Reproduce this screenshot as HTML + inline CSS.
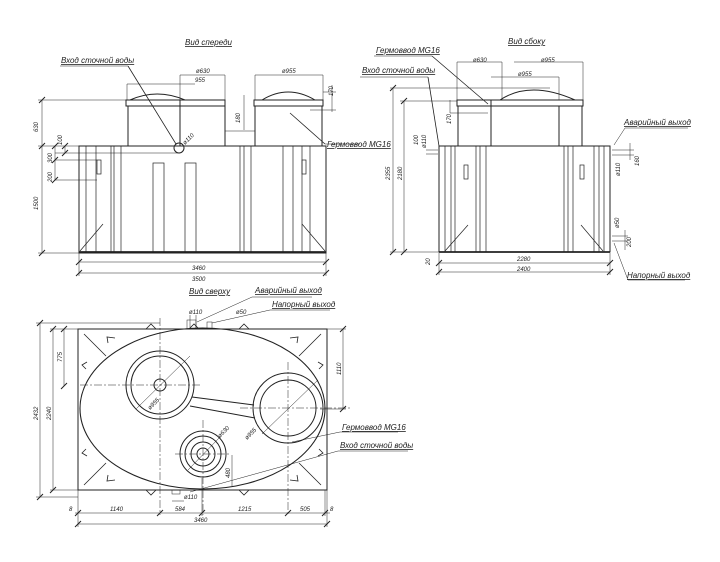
<!DOCTYPE html>
<html><head><meta charset="utf-8"><style>
html,body{margin:0;padding:0;background:#fff}
svg{display:block}
text{font-family:"Liberation Sans",sans-serif;font-style:italic;fill:#222}
.t{font-size:8px;text-decoration:underline}
.d{font-size:6px}
</style></head><body>
<svg width="720" height="562" viewBox="0 0 720 562" xmlns="http://www.w3.org/2000/svg">
<g fill="none" stroke="#222" stroke-width="1">
<!-- ===== FRONT VIEW ===== -->
<rect x="79" y="146" width="247" height="107"/>
<line x1="79" y1="252" x2="326" y2="252" stroke-width="1.8"/>
<g stroke-width="0.7">
<line x1="86" y1="146" x2="86" y2="252"/><line x1="96" y1="146" x2="96" y2="252"/>
<line x1="111" y1="146" x2="111" y2="252"/><line x1="114" y1="146" x2="114" y2="252"/><line x1="121" y1="146" x2="121" y2="252"/>
<line x1="240" y1="146" x2="240" y2="252"/><line x1="244" y1="146" x2="244" y2="252"/><line x1="251" y1="146" x2="251" y2="252"/>
<line x1="283" y1="146" x2="283" y2="252"/><line x1="293" y1="146" x2="293" y2="252"/>
<line x1="302" y1="146" x2="302" y2="252"/><line x1="310" y1="146" x2="310" y2="252"/>
<rect x="153" y="163" width="11" height="89"/><rect x="185" y="163" width="11" height="89"/>
<rect x="97" y="160" width="4" height="14"/><rect x="302" y="160" width="4" height="14"/>
<line x1="80" y1="251" x2="103" y2="224"/><line x1="325" y1="251" x2="302" y2="224"/>
</g>
<rect x="126" y="100" width="99" height="6"/>
<line x1="128" y1="106" x2="128" y2="146"/><line x1="180" y1="100" x2="180" y2="146"/><line x1="225" y1="106" x2="225" y2="146"/>
<path d="M130 100 Q157 88 185 100"/>
<rect x="254" y="100" width="69" height="6"/>
<line x1="255" y1="106" x2="255" y2="146"/><line x1="322" y1="106" x2="322" y2="146"/>
<path d="M262 100 Q288 84 315 100"/>
<line x1="225" y1="131" x2="255" y2="131" stroke-width="0.5"/>
<circle cx="179" cy="148" r="5"/>
<g stroke-width="0.5">
<line x1="79" y1="262" x2="326" y2="262"/><line x1="79" y1="273" x2="326" y2="273"/>
<line x1="79" y1="253" x2="79" y2="276"/><line x1="326" y1="253" x2="326" y2="276"/>
<line x1="42" y1="100" x2="42" y2="253"/><line x1="38" y1="100" x2="126" y2="100"/><line x1="38" y1="253" x2="79" y2="253"/><line x1="38" y1="146" x2="79" y2="146"/>
<line x1="55" y1="146" x2="55" y2="180"/><line x1="65" y1="146" x2="65" y2="153"/>
<line x1="55" y1="153" x2="180" y2="153"/><line x1="55" y1="160" x2="97" y2="160"/><line x1="55" y1="180" x2="97" y2="180"/>
<line x1="127" y1="84" x2="195" y2="84"/><line x1="127" y1="84" x2="127" y2="100"/>
<line x1="180" y1="75" x2="225" y2="75"/><line x1="180" y1="75" x2="180" y2="100"/><line x1="225" y1="75" x2="225" y2="100"/>
<line x1="255" y1="75" x2="323" y2="75"/><line x1="255" y1="75" x2="255" y2="100"/><line x1="323" y1="75" x2="323" y2="100"/>
<line x1="323" y1="92" x2="336" y2="92"/><line x1="310" y1="110" x2="336" y2="110"/><line x1="332" y1="85" x2="332" y2="112"/>
<line x1="244" y1="95" x2="244" y2="130"/>
<line x1="60" y1="66" x2="128" y2="66"/><line x1="128" y1="66" x2="176" y2="144" stroke-width="0.8"/>
<line x1="290" y1="113" x2="325" y2="144" stroke-width="0.8"/><line x1="325" y1="144" x2="360" y2="144"/>
</g>
<!-- ===== SIDE VIEW ===== -->
<rect x="439" y="146" width="171" height="106"/>
<line x1="439" y1="252" x2="610" y2="252" stroke-width="1.8"/>
<g stroke-width="0.7">
<line x1="445" y1="146" x2="445" y2="252"/><line x1="451" y1="146" x2="451" y2="252"/><line x1="455" y1="146" x2="455" y2="252"/>
<line x1="476" y1="146" x2="476" y2="252"/><line x1="480" y1="146" x2="480" y2="252"/><line x1="486" y1="146" x2="486" y2="252"/>
<line x1="564" y1="146" x2="564" y2="252"/><line x1="568" y1="146" x2="568" y2="252"/><line x1="573" y1="146" x2="573" y2="252"/>
<line x1="594" y1="146" x2="594" y2="252"/><line x1="599" y1="146" x2="599" y2="252"/><line x1="604" y1="146" x2="604" y2="252"/>
<rect x="464" y="165" width="4" height="14"/><rect x="580" y="165" width="4" height="14"/>
<line x1="445" y1="251" x2="468" y2="225"/><line x1="603" y1="251" x2="581" y2="225"/>
</g>
<rect x="457" y="100" width="126" height="6"/>
<line x1="458" y1="106" x2="458" y2="146"/><line x1="491" y1="100" x2="491" y2="146"/><line x1="559" y1="106" x2="559" y2="146"/><line x1="582" y1="106" x2="582" y2="146"/>
<path d="M500 100 Q530 80 575 100"/>
<g stroke-width="0.5">
<line x1="439" y1="263" x2="610" y2="263"/><line x1="439" y1="272" x2="610" y2="272"/>
<line x1="439" y1="253" x2="439" y2="275"/><line x1="610" y1="253" x2="610" y2="275"/>
<line x1="393" y1="88" x2="393" y2="252"/><line x1="404" y1="101" x2="404" y2="252"/>
<line x1="390" y1="88" x2="550" y2="88"/><line x1="400" y1="101" x2="457" y2="101"/><line x1="390" y1="252" x2="439" y2="252"/>
<line x1="457" y1="62" x2="502" y2="62"/><line x1="457" y1="62" x2="457" y2="100"/><line x1="502" y1="62" x2="502" y2="100"/>
<line x1="514" y1="62" x2="583" y2="62"/><line x1="583" y1="62" x2="583" y2="100"/>
<line x1="491" y1="77" x2="559" y2="77"/><line x1="559" y1="77" x2="559" y2="100"/>
<line x1="450" y1="113" x2="488" y2="113"/><line x1="450" y1="100" x2="450" y2="113"/>
<line x1="374" y1="56" x2="432" y2="56"/><line x1="432" y1="56" x2="488" y2="104" stroke-width="0.8"/>
<line x1="360" y1="77" x2="428" y2="77"/><line x1="428" y1="77" x2="439" y2="146" stroke-width="0.8"/>
<line x1="426" y1="150" x2="438" y2="150"/><line x1="426" y1="154" x2="438" y2="154"/>
<line x1="612" y1="150" x2="634" y2="150"/><line x1="612" y1="155" x2="634" y2="155"/><line x1="630" y1="143" x2="630" y2="160"/>
<line x1="614" y1="145" x2="625" y2="128"/><line x1="625" y1="128" x2="688" y2="128"/>
<line x1="612" y1="236" x2="628" y2="236"/><line x1="612" y1="241" x2="628" y2="241"/><line x1="625" y1="230" x2="625" y2="250"/>
<line x1="614" y1="243" x2="628" y2="280"/><line x1="628" y1="280" x2="685" y2="280"/>
</g>
<!-- ===== TOP VIEW ===== -->
<rect x="78" y="329" width="249" height="161"/>
<ellipse cx="202.5" cy="408.5" rx="122.5" ry="80.5" stroke-width="1.1"/>
<g stroke-width="0.8">
<line x1="84" y1="334" x2="106" y2="356"/><line x1="321" y1="334" x2="299" y2="356"/>
<line x1="84" y1="485" x2="106" y2="463"/><line x1="321" y1="485" x2="299" y2="463"/>
<path d="M146 329 l5 -5 l5 5 M189 329 l5 -5 l5 5 M239 329 l5 -5 l5 5 M146 490 l5 5 l5 -5 M239 490 l5 5 l5 -5"/>
<path d="M108 343 l-1 -6 l8 1 M297 343 l1 -6 l-8 1 M86 369 l-4 -4 l5 -3 M319 369 l4 -4 l-5 -3 M86 449 l-4 4 l5 3 M319 449 l4 4 l-5 3 M108 475 l-1 6 l8 -1 M297 475 l1 6 l-8 -1"/>
</g>
<circle cx="160" cy="385" r="34"/><circle cx="160" cy="385" r="29"/><circle cx="160" cy="385" r="6"/>
<circle cx="288" cy="408" r="35"/><circle cx="288" cy="408" r="28"/>
<circle cx="203" cy="454" r="23"/><circle cx="203" cy="454" r="18"/><circle cx="203" cy="454" r="12"/><circle cx="203" cy="454" r="6"/>
<line x1="192" y1="397" x2="254" y2="405"/><line x1="190" y1="406" x2="255" y2="418"/>
<g stroke-width="0.5" stroke-dasharray="8 2 2 2">
<line x1="160" y1="318" x2="160" y2="515"/><line x1="288" y1="362" x2="288" y2="515"/><line x1="203" y1="420" x2="203" y2="515"/>
<line x1="80" y1="385" x2="200" y2="385"/><line x1="240" y1="408" x2="350" y2="408"/><line x1="175" y1="454" x2="230" y2="454"/>
</g>
<g stroke-width="0.5">
<line x1="136" y1="409" x2="190" y2="356"/><line x1="262" y1="434" x2="318" y2="380"/><line x1="188" y1="470" x2="220" y2="437"/>
<line x1="40" y1="323" x2="40" y2="497"/><line x1="53" y1="329" x2="53" y2="490"/><line x1="64" y1="329" x2="64" y2="386"/>
<line x1="36" y1="323" x2="160" y2="323"/><line x1="36" y1="497" x2="78" y2="497"/><line x1="50" y1="329" x2="78" y2="329"/><line x1="50" y1="490" x2="78" y2="490"/>
<line x1="343" y1="329" x2="343" y2="409"/><line x1="327" y1="329" x2="346" y2="329"/><line x1="320" y1="409" x2="346" y2="409"/>
<line x1="232" y1="455" x2="232" y2="486"/>
<line x1="75" y1="513" x2="330" y2="513"/><line x1="78" y1="524" x2="327" y2="524"/>
<line x1="78" y1="490" x2="78" y2="527"/><line x1="327" y1="490" x2="327" y2="527"/><line x1="325" y1="490" x2="325" y2="516"/>
<line x1="202" y1="478" x2="202" y2="516"/>
<rect x="172" y="490" width="8" height="4"/><rect x="187" y="320" width="9" height="9"/><rect x="207" y="322" width="5" height="7"/>
<line x1="190" y1="315" x2="190" y2="329"/><line x1="196" y1="315" x2="196" y2="329"/>
<line x1="197" y1="322" x2="252" y2="297"/><line x1="252" y1="297" x2="312" y2="297"/>
<line x1="212" y1="323" x2="270" y2="310"/><line x1="270" y1="310" x2="330" y2="310"/>
<line x1="292" y1="442" x2="340" y2="432"/><line x1="340" y1="432" x2="398" y2="432"/>
<line x1="190" y1="492" x2="338" y2="451"/><line x1="338" y1="451" x2="408" y2="451"/>
<line x1="172" y1="501" x2="184" y2="501"/>
</g>
</g>
<g stroke="#222" stroke-width="1">
<path d="M76 265l6-6M323 265l6-6M76 276l6-6M323 276l6-6M39 103l6-6M39 256l6-6M39 149l6-6M52 149l6-6M52 163l6-6M52 183l6-6M62 149l6-6M62 156l6-6"/>
<path d="M436 266l6-6M607 266l6-6M436 275l6-6M607 275l6-6M390 91l6-6M390 255l6-6M401 104l6-6M401 255l6-6"/>
<path d="M37 326l6-6M37 500l6-6M50 332l6-6M50 493l6-6M61 332l6-6M61 389l6-6M340 332l6-6M340 412l6-6"/>
<path d="M75 516l6-6M157 516l6-6M199 516l6-6M285 516l6-6M322 516l6-6M75 527l6-6M324 527l6-6"/>
</g>
<text class="t" x="185" y="45">Вид спереди</text>
<text class="t" x="61" y="63">Вход сточной воды</text>
<text class="t" x="327" y="147">Гермоввод MG16</text>
<text class="d" x="195" y="82">955</text>
<text class="d" x="196" y="73">ø630</text>
<text class="d" x="282" y="73">ø955</text>
<text class="d" x="192" y="270">3460</text>
<text class="d" x="192" y="281">3500</text>
<text class="d" transform="translate(38 132) rotate(-90)">630</text>
<text class="d" transform="translate(38 210) rotate(-90)">1500</text>
<text class="d" transform="translate(62 145) rotate(-90)">100</text>
<text class="d" transform="translate(52 163) rotate(-90)">300</text>
<text class="d" transform="translate(52 182) rotate(-90)">200</text>
<text class="d" transform="translate(240 123) rotate(-90)">180</text>
<text class="d" transform="translate(333 96) rotate(-90)">170</text>
<text class="d" transform="translate(185 145) rotate(-45)">ø110</text>
<text class="t" x="508" y="44">Вид сбоку</text>
<text class="t" x="376" y="53">Гермоввод MG16</text>
<text class="t" x="362" y="73">Вход сточной воды</text>
<text class="t" x="624" y="125">Аварийный выход</text>
<text class="t" x="627" y="278">Напорный выход</text>
<text class="d" x="473" y="62">ø630</text>
<text class="d" x="541" y="62">ø955</text>
<text class="d" x="518" y="76">ø955</text>
<text class="d" x="517" y="261">2280</text>
<text class="d" x="517" y="271">2400</text>
<text class="d" transform="translate(390 180) rotate(-90)">2355</text>
<text class="d" transform="translate(402 180) rotate(-90)">2180</text>
<text class="d" transform="translate(451 124) rotate(-90)">170</text>
<text class="d" transform="translate(418 145) rotate(-90)">100</text>
<text class="d" transform="translate(426 148) rotate(-90)">ø110</text>
<text class="d" transform="translate(620 176) rotate(-90)">ø110</text>
<text class="d" transform="translate(639 166) rotate(-90)">160</text>
<text class="d" transform="translate(619 228) rotate(-90)">ø50</text>
<text class="d" transform="translate(631 247) rotate(-90)">200</text>
<text class="d" transform="translate(430 265) rotate(-90)">20</text>
<text class="t" x="189" y="294">Вид сверху</text>
<text class="t" x="255" y="293">Аварийный выход</text>
<text class="t" x="272" y="307">Напорный выход</text>
<text class="t" x="342" y="430">Гермоввод MG16</text>
<text class="t" x="340" y="448">Вход сточной воды</text>
<text class="d" x="189" y="314">ø110</text>
<text class="d" x="236" y="314">ø50</text>
<text class="d" x="184" y="499">ø110</text>
<text class="d" x="110" y="511">1140</text>
<text class="d" x="175" y="511">584</text>
<text class="d" x="238" y="511">1215</text>
<text class="d" x="300" y="511">505</text>
<text class="d" x="69" y="511">8</text>
<text class="d" x="330" y="511">8</text>
<text class="d" x="194" y="522">3460</text>
<text class="d" transform="translate(38 420) rotate(-90)">2432</text>
<text class="d" transform="translate(51 420) rotate(-90)">2240</text>
<text class="d" transform="translate(62 362) rotate(-90)">775</text>
<text class="d" transform="translate(341 375) rotate(-90)">1110</text>
<text class="d" transform="translate(230 478) rotate(-90)">480</text>
<text class="d" transform="translate(150 410) rotate(-45)">ø955</text>
<text class="d" transform="translate(247 440) rotate(-45)">ø955</text>
<text class="d" transform="translate(220 438) rotate(-45)">ø630</text>
</svg>
</body></html>
